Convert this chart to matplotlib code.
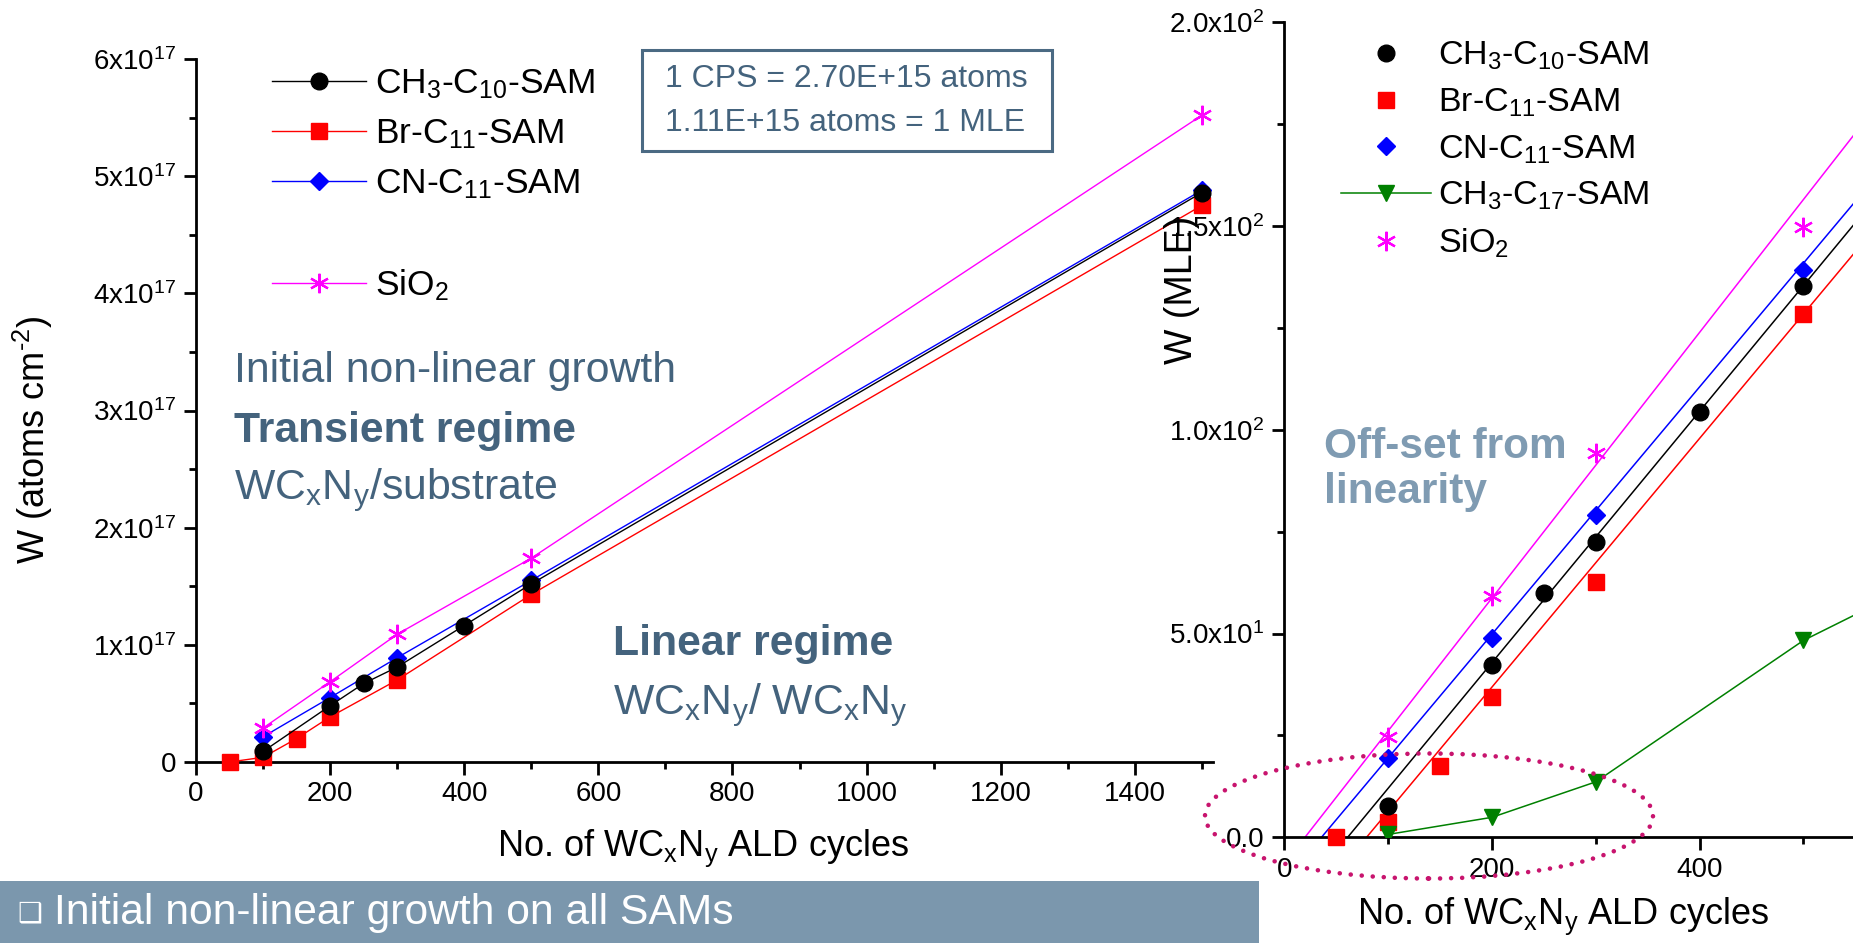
import numpy as np
import matplotlib
matplotlib.use("Agg")
import matplotlib.pyplot as plt
from matplotlib import ticker
from matplotlib.patches import Ellipse, Rectangle
from matplotlib.lines import Line2D

plt.rcParams['font.family'] = ['Liberation Sans', 'DejaVu Sans']
plt.rcParams['mathtext.fontset'] = 'custom'
plt.rcParams['mathtext.rm'] = 'Liberation Sans'
plt.rcParams['mathtext.it'] = 'Liberation Sans:italic'
plt.rcParams['mathtext.bf'] = 'Liberation Sans:bold'

# ---------------- W areal density (atoms cm^-2) vs. ALD cycles ----------------
ch3c10_cycles = [100, 200, 250, 300, 400, 500, 1500]
ch3c10_atoms = [0.09e17, 0.48e17, 0.67e17, 0.81e17, 1.165e17, 1.52e17, 4.86e17]
brc11_cycles = [50, 100, 150, 200, 300, 500, 1500]
brc11_atoms = [0.0, 0.04e17, 0.20e17, 0.385e17, 0.70e17, 1.43e17, 4.75e17]
cnc11_cycles = [100, 200, 300, 500, 1500]
cnc11_atoms = [0.215e17, 0.55e17, 0.89e17, 1.55e17, 4.88e17]
sio2_cycles = [100, 200, 300, 500, 1500]
sio2_atoms = [0.29e17, 0.685e17, 1.09e17, 1.74e17, 5.52e17]

# ---------------- W coverage (MLE) vs. ALD cycles, early cycles ----------------
ch3c10_mle_cycles = [100, 200, 250, 300, 400, 500]
ch3c10_mle = [7.7, 42.3, 60.0, 72.5, 104.3, 135.3]
brc11_mle_cycles = [50, 100, 150, 200, 300, 500]
brc11_mle = [0.0, 3.8, 17.6, 34.4, 62.7, 128.5]
cnc11_mle_cycles = [100, 200, 300, 500]
cnc11_mle = [19.5, 48.8, 79.0, 139.1]
sio2_mle_cycles = [100, 200, 300, 500]
sio2_mle = [24.7, 59.2, 94.3, 149.7]
ch3c17_mle_cycles = [100, 200, 300, 500, 1500]
ch3c17_mle = [0.7, 4.9, 13.6, 48.3, 175.0]

# linear fits of the linear regime: slope (MLE/cycle) and x-axis intercept (cycles)
fit_names = ['sio2', 'cnc11', 'ch3c10', 'brc11']
fit_slopes = [0.326, 0.3035, 0.3084, 0.3052]
fit_x0 = [20.0, 35.9, 61.1, 79.3]

left_yticks = [0, 1e17, 2e17, 3e17, 4e17, 5e17, 6e17]
left_xticks = [0, 200, 400, 600, 800, 1000, 1200, 1400]
right_yticks = [0, 50, 100, 150, 200]
right_xticks = [0, 200, 400]

TXT = '#44637d'
TXT_LIGHT = '#7f9bb2'
BANNER = '#7b97ad'

W, H = 1853, 943
fig = plt.figure(figsize=(W / 100, H / 100), dpi=100)


def fx(px):
    return px / W


def fy(py):
    return 1 - py / H


def style_axes(ax):
    for s in ('top', 'right'):
        ax.spines[s].set_visible(False)
    for s in ('left', 'bottom'):
        ax.spines[s].set_linewidth(2.0)
    ax.tick_params(which='major', direction='out', length=9, width=2.0,
                   labelsize=20, pad=5)
    ax.tick_params(which='minor', direction='out', length=5, width=2.0)


# ============================ left panel ============================
axL = fig.add_axes([fx(196), fy(762), fx(1212.6 - 196), (762 - 59) / H])
style_axes(axL)
axL.set_xlim(0, 1516)
axL.set_ylim(0, 6e17)
axL.set_xticks(left_xticks)
axL.xaxis.set_minor_locator(ticker.MultipleLocator(100))
axL.set_yticks(left_yticks)
axL.yaxis.set_minor_locator(ticker.MultipleLocator(0.5e17))


def sci17(v, pos):
    m = int(round(v / 1e17))
    return '0' if m == 0 else f'{m}x10$^{{17}}$'


axL.yaxis.set_major_formatter(ticker.FuncFormatter(sci17))

lw = 1.0
star = (6, 2, 0)
axL.plot(ch3c10_cycles, ch3c10_atoms, '-o', color='black', lw=lw, ms=12, zorder=5, clip_on=False)
axL.plot(brc11_cycles, brc11_atoms, '-s', color='red', lw=lw, ms=11, zorder=4, clip_on=False)
axL.plot(cnc11_cycles, cnc11_atoms, '-D', color='blue', lw=lw, ms=9, zorder=3, clip_on=False)
axL.plot(sio2_cycles, sio2_atoms, '-', color='magenta', lw=lw, marker=star, ms=14,
         mew=1.6, zorder=3, clip_on=False)

hL = [Line2D([], [], color='black', lw=lw, marker='o', ms=12),
      Line2D([], [], color='red', lw=lw, marker='s', ms=11),
      Line2D([], [], color='blue', lw=lw, marker='D', ms=9),
      Line2D([], [], color='none'),
      Line2D([], [], color='magenta', lw=lw, marker=star, ms=14, mew=1.6)]
labL = ['CH$_3$-C$_{10}$-SAM', 'Br-C$_{11}$-SAM', 'CN-C$_{11}$-SAM', ' ', 'SiO$_2$']
fig.legend(hL, labL, loc='upper left', bbox_to_anchor=(fx(272), fy(67)),
           frameon=False, fontsize=25.5, handlelength=2.65, handletextpad=0.25,
           labelspacing=0.47, borderpad=0, borderaxespad=0)

fig.text(fx(703), fy(848), r'No. of WC$_\mathrm{x}$N$_\mathrm{y}$ ALD cycles',
         ha='center', va='center', fontsize=26)
fig.text(fx(33), fy(440), 'W (atoms cm$^{\u2010 2}$)', rotation=90,
         ha='center', va='center', fontsize=26)

fig.text(fx(665), fy(79), '1 CPS = 2.70E+15 atoms', color=TXT, fontsize=23,
         ha='left', va='center')
fig.text(fx(665), fy(123), '1.11E+15 atoms = 1 MLE', color=TXT, fontsize=23,
         ha='left', va='center')
fig.patches.append(Rectangle((fx(642), fy(151)), fx(1052 - 642), (151 - 50) / H,
                             transform=fig.transFigure, fill=False,
                             edgecolor='#4b6a83', lw=2.2))

fig.text(fx(234), fy(371), 'Initial non-linear growth', color=TXT, fontsize=30.8,
         ha='left', va='center')
fig.text(fx(234), fy(431), 'Transient regime', color=TXT, fontsize=30.8,
         fontweight='bold', ha='left', va='center')
fig.text(fx(234), fy(490), r'WC$_\mathrm{x}$N$_\mathrm{y}$/substrate', color=TXT,
         fontsize=30.8, ha='left', va='center')
fig.text(fx(613), fy(644), 'Linear regime', color=TXT, fontsize=30.8,
         fontweight='bold', ha='left', va='center')
fig.text(fx(613), fy(705), r'WC$_\mathrm{x}$N$_\mathrm{y}$/ WC$_\mathrm{x}$N$_\mathrm{y}$',
         color=TXT, fontsize=30.8, ha='left', va='center')

# ============================ right panel ============================
axR = fig.add_axes([fx(1284.2), fy(837.3), 1 - fx(1284.2), (837.3 - 22.1) / H])
style_axes(axR)
axR.set_xlim(0, 547.7)
axR.set_ylim(0, 200)
axR.set_xticks(right_xticks)
axR.xaxis.set_minor_locator(ticker.MultipleLocator(100))
axR.set_yticks(right_yticks)
axR.yaxis.set_minor_locator(ticker.MultipleLocator(25))


def sci_mle(v, pos):
    if v == 0:
        return '0.0'
    e = int(np.floor(np.log10(v)))
    return f'{v / 10 ** e:.1f}x10$^{{{e}}}$'


axR.yaxis.set_major_formatter(ticker.FuncFormatter(sci_mle))

fit_colors = {'sio2': 'magenta', 'cnc11': 'blue', 'ch3c10': 'black', 'brc11': 'red'}
for name, k, x0 in zip(fit_names, fit_slopes, fit_x0):
    xs = np.array([x0, 650.0])
    axR.plot(xs, k * (xs - x0), '-', color=fit_colors[name], lw=1.1, zorder=2)

axR.plot(ch3c10_mle_cycles, ch3c10_mle, 'o', color='black', ms=12, zorder=5, clip_on=False)
axR.plot(brc11_mle_cycles, brc11_mle, 's', color='red', ms=11, zorder=4, clip_on=False)
axR.plot(cnc11_mle_cycles, cnc11_mle, 'D', color='blue', ms=9, zorder=4, clip_on=False)
axR.plot(sio2_mle_cycles, sio2_mle, linestyle='none', color='magenta', marker=star,
         ms=14, mew=1.6, zorder=4, clip_on=False)
axR.plot(ch3c17_mle_cycles, ch3c17_mle, '-v', color='green', lw=1.1, ms=12, zorder=4)

hR = [Line2D([], [], color='black', ls='none', marker='o', ms=12),
      Line2D([], [], color='red', ls='none', marker='s', ms=11),
      Line2D([], [], color='blue', ls='none', marker='D', ms=9),
      Line2D([], [], color='green', lw=1.1, marker='v', ms=12),
      Line2D([], [], color='magenta', ls='none', marker=star, ms=14, mew=1.6)]
labR = ['CH$_3$-C$_{10}$-SAM', 'Br-C$_{11}$-SAM', 'CN-C$_{11}$-SAM',
        'CH$_3$-C$_{17}$-SAM', 'SiO$_2$']
fig.legend(hR, labR, loc='upper left', bbox_to_anchor=(fx(1341), fy(40)),
           frameon=False, fontsize=24.5, handlelength=2.65, handletextpad=0.2,
           labelspacing=0.42, borderpad=0, borderaxespad=0)

fig.text(fx(1563), fy(916), r'No. of WC$_\mathrm{x}$N$_\mathrm{y}$ ALD cycles',
         ha='center', va='center', fontsize=26)
fig.text(fx(1182), fy(290), 'W (MLE)', rotation=90, ha='center', va='center',
         fontsize=27)

fig.text(fx(1324), fy(447), 'Off-set from', color=TXT_LIGHT, fontsize=30.5,
         fontweight='bold', ha='left', va='center')
fig.text(fx(1324), fy(492), 'linearity', color=TXT_LIGHT, fontsize=30.5,
         fontweight='bold', ha='left', va='center')

# dotted ellipse around the early-cycle region
fig.patches.append(Ellipse((fx(1429), fy(816)), fx(448), 125 / H,
                           transform=fig.transFigure, fill=False,
                           edgecolor='#c8146e', lw=3.3,
                           linestyle=(0, (0.01, 2.4)), capstyle='round', zorder=10))

# bottom banner
fig.patches.append(Rectangle((0, 0), fx(1258.6), (943 - 881) / H,
                             transform=fig.transFigure, facecolor=BANNER,
                             edgecolor='none', zorder=0))
fig.text(fx(17), fy(913), '\u2751', color='white', fontsize=20,
         family=['DejaVu Sans'], ha='left', va='center')
fig.text(fx(54), fy(913), 'Initial non-linear growth on all SAMs', color='white',
         fontsize=30.7, ha='left', va='center')

fig.savefig('out.png', dpi=100)
